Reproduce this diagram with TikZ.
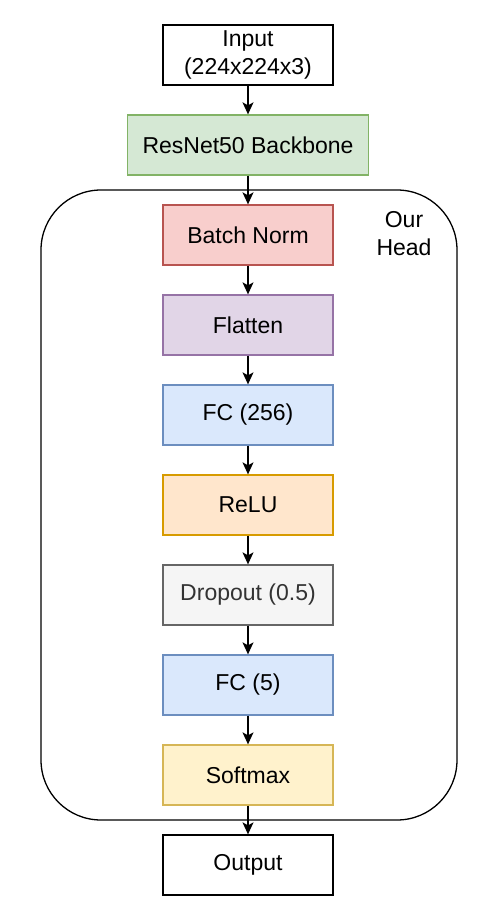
\documentclass[tikz,border=0pt]{standalone}
\usepackage{fontspec}
\setmainfont{Liberation Sans}
\usetikzlibrary{arrows.meta}

\definecolor{bnfill}{HTML}{F8CECC}
\definecolor{bnline}{HTML}{B85450}
\definecolor{flatfill}{HTML}{E1D5E7}
\definecolor{flatline}{HTML}{9673A6}
\definecolor{fcfill}{HTML}{DAE8FC}
\definecolor{fcline}{HTML}{6C8EBF}
\definecolor{relufill}{HTML}{FFE6CC}
\definecolor{reluline}{HTML}{D79B00}
\definecolor{dropfill}{HTML}{F5F5F5}
\definecolor{dropline}{HTML}{666666}
\definecolor{droptext}{HTML}{333333}
\definecolor{softfill}{HTML}{FFF2CC}
\definecolor{softline}{HTML}{D6B656}
\definecolor{resfill}{HTML}{D5E8D4}
\definecolor{resline}{HTML}{82B366}

\begin{document}
\begin{tikzpicture}[x=1pt,y=-1pt,
    layer/.style={draw, line width=1.3pt, minimum width=170pt, minimum height=60pt,
        inner sep=0pt, align=center, font=\fontsize{23}{28}\selectfont},
    flow/.style={-{Stealth[length=12pt,width=11pt,inset=3pt]}, line width=1.3pt}]
    \useasboundingbox (0,0) rectangle (495,918);

    % the head
    \draw[line width=1.3pt, rounded corners=60pt] (41,190) rectangle (457,820);
    \node[align=center, font=\fontsize{23}{28}\selectfont] (headlbl) at (404,234) {Our\\Head};

    \node[layer] (input) at (248,55) {Input\\(224x224x3)};
    \node[layer, minimum width=241pt, fill=resfill, draw=resline] (backbone) at (248,145) {ResNet50 Backbone};
    \node[layer, fill=bnfill, draw=bnline] (bn) at (248,235) {Batch Norm};
    \node[layer, fill=flatfill, draw=flatline] (flat) at (248,325) {Flatten};
    \node[layer, fill=fcfill, draw=fcline] (fca) at (248,415) {FC (256)};
    \node[layer, fill=relufill, draw=reluline] (relu) at (248,505) {ReLU};
    \node[layer, fill=dropfill, draw=dropline, text=droptext] (drop) at (248,595) {Dropout (0.5)};
    \node[layer, fill=fcfill, draw=fcline] (fcb) at (248,685) {FC (5)};
    \node[layer, fill=softfill, draw=softline] (soft) at (248,775) {Softmax};
    \node[layer] (output) at (248,865) {Output};

    \draw[flow] (input) -- (backbone);
    \draw[flow] (backbone) -- (bn);
    \draw[flow] (bn) -- (flat);
    \draw[flow] (flat) -- (fca);
    \draw[flow] (fca) -- (relu);
    \draw[flow] (relu) -- (drop);
    \draw[flow] (drop) -- (fcb);
    \draw[flow] (fcb) -- (soft);
    \draw[flow] (soft) -- (output);
\end{tikzpicture}
\end{document}
